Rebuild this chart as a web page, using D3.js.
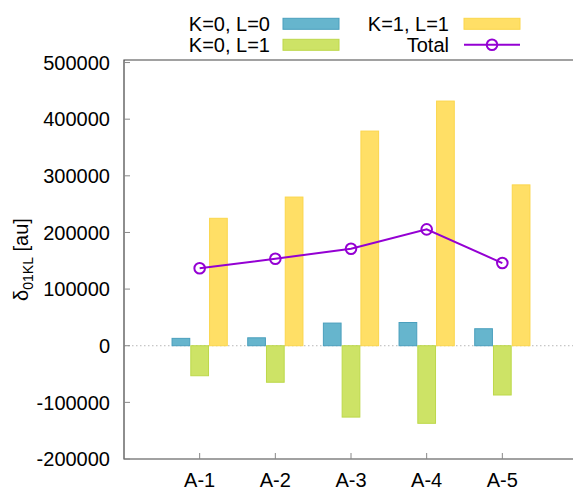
<!DOCTYPE html>
<html>
<head>
<meta charset="utf-8">
<script src="https://cdn.jsdelivr.net/npm/d3@7"></script>
<style>
  body { margin: 0; background: #fff; }
  svg { display: block; font-family: "Liberation Sans", Arial, sans-serif; }
</style>
</head>
<body>
<svg id="chart" width="573" height="489"></svg>
<script>
// data
const categories = ["A-1", "A-2", "A-3", "A-4", "A-5"];
const k0l0 = [13000, 14000, 40000, 41000, 30000];
const k0l1 = [-53000, -64500, -126000, -137000, -87000];
const k1l1 = [225000, 262500, 379000, 432000, 284000];
const total = [136700, 153600, 171300, 205500, 146000];
const yTicks = [-200000, -100000, 0, 100000, 200000, 300000, 400000, 500000];

const series = [
    { name: "K=0, L=0", values: k0l0, fill: "#66b5cd", stroke: "#4a9fbd", off: -1 },
    { name: "K=0, L=1", values: k0l1, fill: "#cde366", stroke: "#bdd84a", off: 0 },
    { name: "K=1, L=1", values: k1l1, fill: "#ffdf66", stroke: "#fbd64c", off: 1 }
];
const lineColor = "#9400d3";

const svg = d3.select("#chart");
const plotLeft = 124, plotRight = 578, plotTop = 60, plotBottom = 459;

const x = d3.scaleLinear().domain([0, 6]).range([plotLeft, plotRight]);
const y = d3.scaleLinear().domain([-200000, 504500]).range([plotBottom, plotTop]);
const step = 0.248, boxw = 0.234;

// zero line
svg.append("line")
    .attr("x1", plotLeft).attr("x2", 573)
    .attr("y1", y(0)).attr("y2", y(0))
    .attr("stroke", "#b8b8b8").attr("stroke-width", 1)
    .attr("stroke-dasharray", "1.5,2.5");

// bars
series.forEach(s => {
    svg.append("g")
        .selectAll("rect")
        .data(s.values)
        .join("rect")
        .attr("x", (d, i) => x(i + 1 + s.off * step - boxw / 2))
        .attr("width", x(boxw) - x(0))
        .attr("y", d => y(Math.max(0, d)))
        .attr("height", d => Math.abs(y(d) - y(0)))
        .attr("fill", s.fill)
        .attr("stroke", s.stroke)
        .attr("stroke-width", 1);
});

// total line
const line = d3.line().x((d, i) => x(i + 1)).y(d => y(d));
svg.append("path")
    .datum(total)
    .attr("d", line)
    .attr("fill", "none")
    .attr("stroke", lineColor)
    .attr("stroke-width", 2);
svg.append("g")
    .selectAll("circle")
    .data(total)
    .join("circle")
    .attr("cx", (d, i) => x(i + 1))
    .attr("cy", d => y(d))
    .attr("r", 5.3)
    .attr("fill", "none")
    .attr("stroke", lineColor)
    .attr("stroke-width", 2);

// border: left, bottom, top
const border = "#444";
svg.append("path")
    .attr("d", `M573,${plotTop}H${plotLeft}V${plotBottom}H573`)
    .attr("fill", "none")
    .attr("stroke", border)
    .attr("stroke-width", 1.2);

// y axis ticks and labels
const yAxis = svg.append("g");
yTicks.forEach(t => {
    yAxis.append("line")
        .attr("x1", plotLeft).attr("x2", plotLeft + 6)
        .attr("y1", y(t)).attr("y2", y(t))
        .attr("stroke", "#888");
    yAxis.append("text")
        .attr("x", 110).attr("y", y(t))
        .attr("dy", "0.36em")
        .attr("text-anchor", "end")
        .attr("font-size", 20)
        .text(t);
});

// x axis ticks and labels
const xAxis = svg.append("g");
categories.forEach((c, i) => {
    xAxis.append("line")
        .attr("x1", x(i + 1)).attr("x2", x(i + 1))
        .attr("y1", plotBottom).attr("y2", plotBottom - 6)
        .attr("stroke", "#888");
    xAxis.append("text")
        .attr("x", x(i + 1)).attr("y", 487)
        .attr("text-anchor", "middle")
        .attr("font-size", 20)
        .text(c);
});

// y label
const yl = svg.append("text")
    .attr("transform", `translate(28,${(plotTop + plotBottom) / 2}) rotate(-90)`)
    .attr("text-anchor", "middle")
    .attr("font-size", 20);
yl.append("tspan").text("δ");
yl.append("tspan").attr("font-size", 14).attr("dy", 5).text("01KL");
yl.append("tspan").attr("dy", -5).text(" [au]");

// legend
const legend = [
    { name: series[0].name, kind: "box", s: series[0], tx: 270, sx: 283, row: 0 },
    { name: series[1].name, kind: "box", s: series[1], tx: 270, sx: 283, row: 1 },
    { name: series[2].name, kind: "box", s: series[2], tx: 449, sx: 464, row: 0 },
    { name: "Total", kind: "line", tx: 449, sx: 464, row: 1 }
];
legend.forEach(l => {
    const cy = 23.8 + l.row * 21;
    svg.append("text")
        .attr("x", l.tx).attr("y", cy)
        .attr("dy", "0.36em")
        .attr("text-anchor", "end")
        .attr("font-size", 20)
        .text(l.name);
    if (l.kind === "box") {
        svg.append("rect")
            .attr("x", l.sx).attr("y", cy - 5.5)
            .attr("width", 56).attr("height", 11)
            .attr("fill", l.s.fill)
            .attr("stroke", l.s.stroke);
    } else {
        svg.append("line")
            .attr("x1", l.sx).attr("x2", l.sx + 56)
            .attr("y1", cy).attr("y2", cy)
            .attr("stroke", lineColor).attr("stroke-width", 2);
        svg.append("circle")
            .attr("cx", l.sx + 28).attr("cy", cy).attr("r", 5.3)
            .attr("fill", "none")
            .attr("stroke", lineColor).attr("stroke-width", 2);
    }
});
</script>
</body>
</html>
